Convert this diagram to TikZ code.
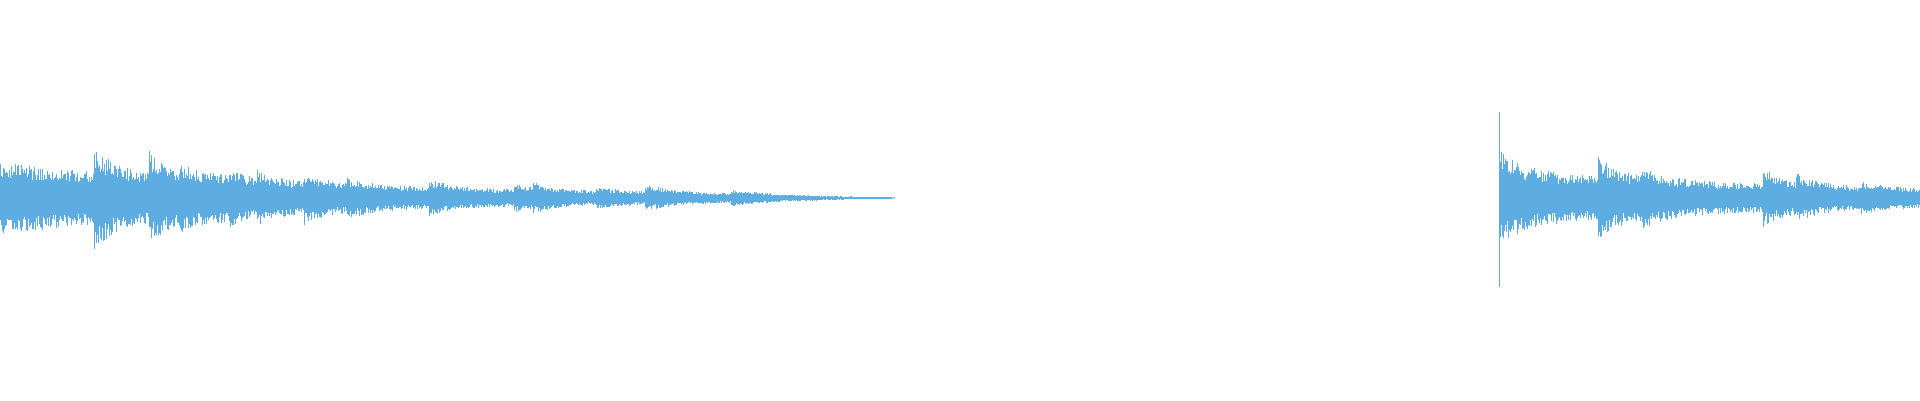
\documentclass[tikz,border=0pt]{standalone}
\definecolor{wave}{HTML}{5DADE2}
\tikzset{sample/.style={draw=wave,line width=1pt},
  declare function={tr(\t,\o,\k)=\k*(\t>=\o)*exp(-max(\t-\o,0)/22);}}
\begin{document}
\begin{tikzpicture}[x=1pt,y=1pt]
\useasboundingbox (0,0) rectangle (1920,400);
\pgfmathsetseed{7}
% first part of the track
\foreach \x in {0,1,...,894}{
  \pgfmathsetmacro\amp{35*exp(-\x/350)*min(1,(894-\x)/150+0.03)
    +tr(\x,94,25)+tr(\x,149,22)+tr(\x,180,10)+tr(\x,202,8)+tr(\x,229,8)
    +tr(\x,257,8)+tr(\x,304,10)+tr(\x,347,6)+tr(\x,429,8)+tr(\x,514,6)
    +tr(\x,533,5)+tr(\x,596,5)+tr(\x,645,8)+tr(\x,731,4)+0.6}
  \pgfmathsetmacro\up{202+\amp*(0.55+0.45*rnd)}
  \pgfmathsetmacro\dn{202-\amp*(0.55+0.45*rnd)}
  \draw[sample] (\x,\up) -- (\x,\dn);
}
% second part of the track
\draw[sample] (1499,288) -- (1499,113);
\foreach \x in {1500,1501,...,1920}{
  \pgfmathsetmacro\amp{28*exp(-(\x-1500)/400)
    +tr(\x,1500,20)+tr(\x,1598,20)+tr(\x,1641,10)+tr(\x,1763,15)
    +tr(\x,1796,8)+tr(\x,1861,5)}
  \pgfmathsetmacro\up{202+\amp*(0.55+0.45*rnd)}
  \pgfmathsetmacro\dn{202-\amp*(0.55+0.45*rnd)}
  \draw[sample] (\x,\up) -- (\x,\dn);
}
\end{tikzpicture}
\end{document}
